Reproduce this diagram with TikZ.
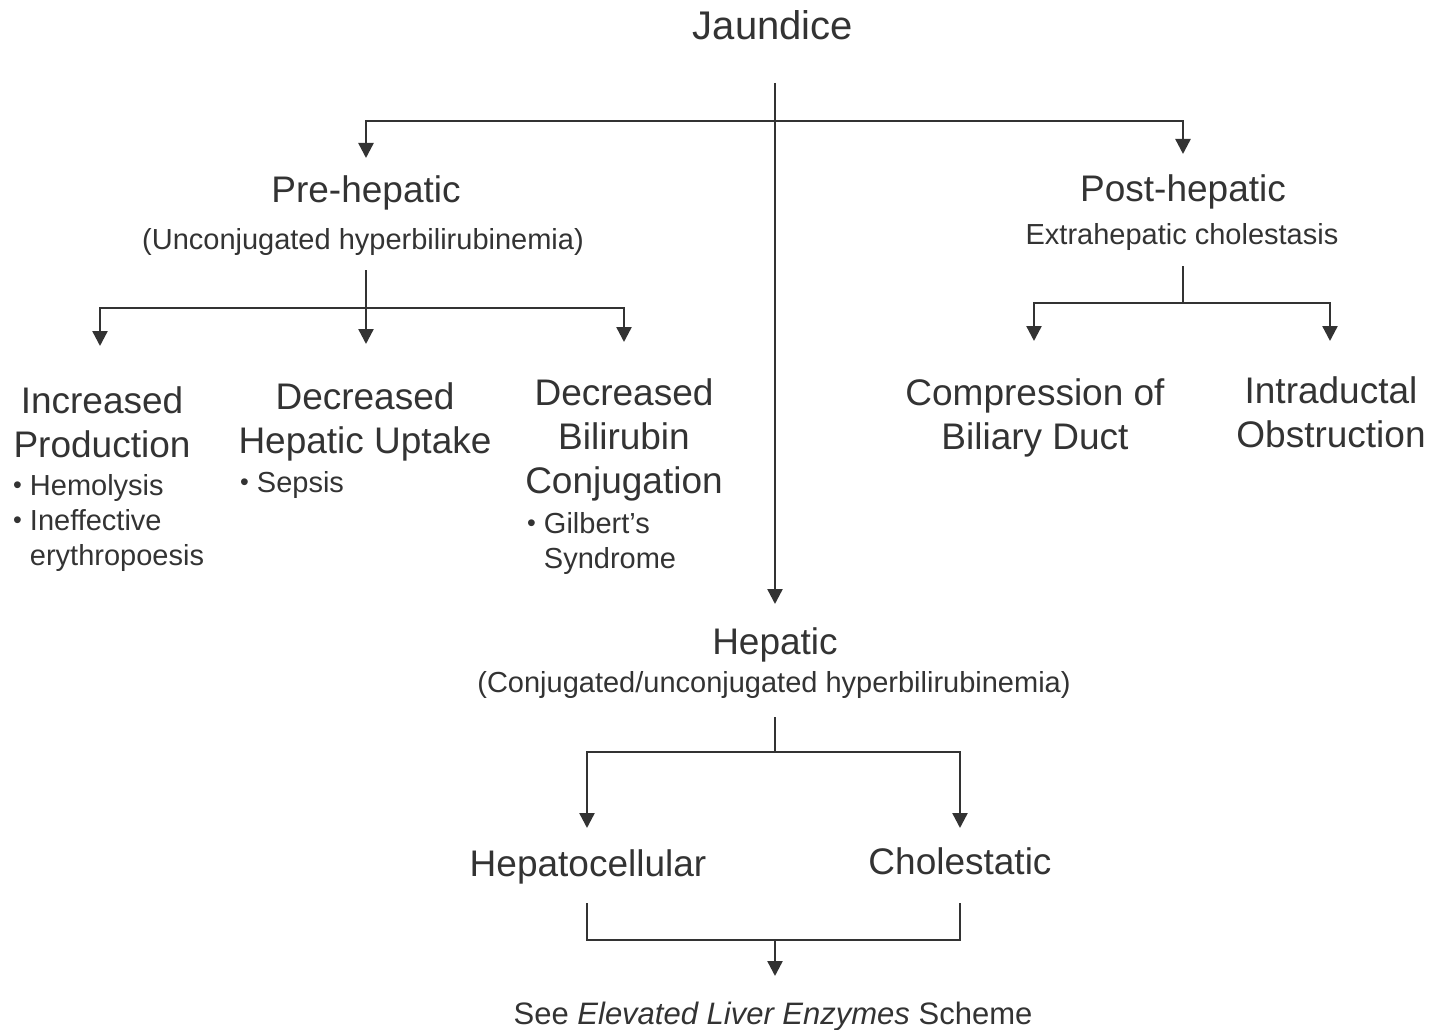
\documentclass[tikz,border=0pt]{standalone}
\usepackage{fontspec}
\setmainfont{Liberation Sans}
\usetikzlibrary{arrows.meta}
\definecolor{ink}{HTML}{333333}
\newcommand{\pnt}{\raisebox{1.5pt}{\fontsize{25}{25}\selectfont\textbullet}\hspace{8pt}}
\newcommand{\pntgap}{\hphantom{\pnt}}

\begin{document}
\begin{tikzpicture}[x=1pt, y=-1pt,
    title/.style={font=\fontsize{40}{48}\selectfont, text=ink, inner sep=0pt},
    head/.style={font=\fontsize{37}{44}\selectfont, text=ink, inner sep=0pt, align=center},
    note/.style={font=\fontsize{29}{35}\selectfont, text=ink, inner sep=0pt, align=left},
    link/.style={draw=ink, line width=2.4pt},
    arr/.style={link, -{Triangle[width=15pt,length=15pt]}}]

\useasboundingbox (0,0) rectangle (1433,1030);

%% === LIVELLO 1 ===
\node[title, anchor=base] (jaundice) at (773,40) {Jaundice};

\node[head, anchor=base] (pre)     at (366,203)  {Pre-hepatic};
\node[note, anchor=base] (presub)  at (363,249)  {(Unconjugated hyperbilirubinemia)};
\node[head, anchor=base] (post)    at (1183,201) {Post-hepatic};
\node[note, anchor=base] (postsub) at (1182,244) {Extrahepatic cholestasis};
\node[head, anchor=base] (hep)     at (775,654)  {Hepatic};
\node[note, anchor=base] (hepsub)  at (774,692)  {(Conjugated/unconjugated hyperbilirubinemia)};

%% === PRE-HEPATIC: cause ===
\node[head, anchor=north] (incprod) at (102,386) {Increased\\Production};
\node[note, anchor=north west] (incnote) at (13,474)
    {\pnt Hemolysis\\ \pnt Ineffective\\ \pntgap erythropoesis};

\node[head, anchor=north] (decupt) at (365,382) {Decreased\\Hepatic Uptake};
\node[note, anchor=north west] (uptnote) at (240,471) {\pnt Sepsis};

\node[head, anchor=north] (decconj) at (624,378) {Decreased\\Bilirubin\\Conjugation};
\node[note, anchor=north west] (conjnote) at (527,512)
    {\pnt Gilbert's\\ \pntgap Syndrome};

%% === POST-HEPATIC: cause ===
\node[head, anchor=north] (compr)  at (1035,378) {Compression of\\Biliary Duct};
\node[head, anchor=north] (intrad) at (1331,376) {Intraductal\\Obstruction};

%% === HEPATIC ===
\node[head, anchor=base] (hcell) at (588,876) {Hepatocellular};
\node[head, anchor=base] (chol)  at (960,874) {Cholestatic};
\node[note, font=\fontsize{31}{37}\selectfont, anchor=base] (see) at (773,1024)
    {See \textit{Elevated Liver Enzymes} Scheme};

%% punti di snodo
\coordinate (jstem)   at (775,83);
\coordinate (jbar)    at (775,121);
\coordinate (pretip)  at (366,158);
\coordinate (posttip) at (1183,154);
\coordinate (heptip)  at (775,604);

\coordinate (prestem) at (366,270);
\coordinate (prebar)  at (366,308);
\coordinate (inctip)  at (100,346);
\coordinate (upttip)  at (366,344);
\coordinate (conjtip) at (624,342);

\coordinate (poststem) at (1183,266);
\coordinate (postbar)  at (1183,303);
\coordinate (comprtip) at (1034,341);
\coordinate (intrtip)  at (1330,341);

\coordinate (hepstem)  at (775,717);
\coordinate (hepbar)   at (775,752);
\coordinate (hcelltip) at (587,828);
\coordinate (choltip)  at (960,828);

\coordinate (hcellend) at (587,903);
\coordinate (cholend)  at (960,903);
\coordinate (seebar)   at (775,940);
\coordinate (seetip)   at (775,976);

%% connettori
\draw[arr] (jstem) -- (heptip);
\draw[arr] (jbar) -| (pretip);
\draw[arr] (jbar) -| (posttip);

\draw[arr] (prestem) -- (upttip);
\draw[arr] (prebar) -| (inctip);
\draw[arr] (prebar) -| (conjtip);

\draw[link] (poststem) -- (postbar);
\draw[arr] (postbar) -| (comprtip);
\draw[arr] (postbar) -| (intrtip);

\draw[link] (hepstem) -- (hepbar);
\draw[arr] (hepbar) -| (hcelltip);
\draw[arr] (hepbar) -| (choltip);

\draw[link] (hcellend) |- (seebar) -| (cholend);
\draw[arr] (seebar) -- (seetip);

\end{tikzpicture}
\end{document}
